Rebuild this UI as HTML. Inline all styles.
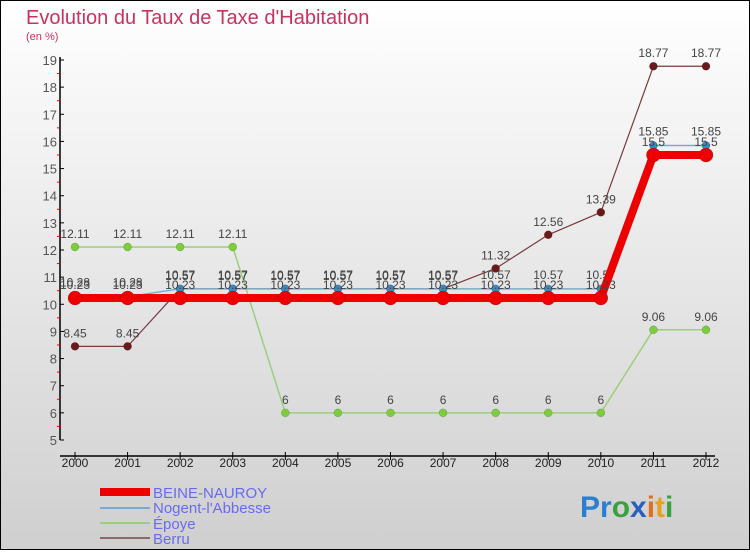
<!DOCTYPE html>
<html><head><meta charset="utf-8"><style>
html,body{margin:0;padding:0}
body{width:750px;height:550px;overflow:hidden;font-family:"Liberation Sans","DejaVu Sans",sans-serif}
</style></head><body>
<svg id="chart" width="750" height="550" xmlns="http://www.w3.org/2000/svg">
<defs><linearGradient id="bg" x1="0" y1="0" x2="0" y2="1"><stop offset="0" stop-color="#ffffff"/><stop offset="1" stop-color="#cfcfcf"/></linearGradient></defs>
<rect x="0.5" y="0.5" width="749" height="549" fill="url(#bg)" stroke="#000" stroke-width="1"/>
<text x="26" y="24" font-size="20" fill="#c8325e">Evolution du Taux de Taxe d'Habitation</text>
<text x="26" y="40" font-size="11" fill="#c8325e">(en %)</text>
<g id="axes"></g>
<g id="series"></g>
<g>
<rect x="100" y="488" width="50" height="8" fill="#e00"/>
<text x="153" y="498" font-size="15" fill="#6a6af0">BEINE-NAUROY</text>
<rect x="100" y="507" width="50" height="2" fill="#7aa8d0"/>
<text x="153" y="513" font-size="15" fill="#6a6af0">Nogent-l'Abbesse</text>
<rect x="100" y="522" width="50" height="2" fill="#9ccf7a"/>
<text x="153" y="529" font-size="15" fill="#6a6af0">Époye</text>
<rect x="100" y="537" width="50" height="2" fill="#8c6a6a"/>
<text x="153" y="544" font-size="15" fill="#6a6af0">Berru</text>
</g>
<g font-size="30" font-weight="bold">
<text x="580" y="517"><tspan fill="#2a7fd0">Pr</tspan><tspan fill="#3aa040">o</tspan><tspan fill="#2a5fc0">x</tspan><tspan fill="#e07020">i</tspan><tspan fill="#e8a020">t</tspan><tspan fill="#3aa040">i</tspan></text>
</g>
</svg>
<script>
const years = [2000,2001,2002,2003,2004,2005,2006,2007,2008,2009,2010,2011,2012];
const yTicks = [5,6,7,8,9,10,11,12,13,14,15,16,17,18,19];
const beine = [10.23,10.23,10.23,10.23,10.23,10.23,10.23,10.23,10.23,10.23,10.23,15.5,15.5];
const nogent = [10.28,10.28,10.57,10.57,10.57,10.57,10.57,10.57,10.57,10.57,10.57,15.85,15.85];
const epoye = [12.11,12.11,12.11,12.11,6,6,6,6,6,6,6,9.06,9.06];
const berru = [8.45,8.45,10.57,10.57,10.57,10.57,10.57,10.57,11.32,12.56,13.39,18.77,18.77];
const NS='http://www.w3.org/2000/svg';
const x0=75,x1=706,yBot=440,yTop=60,vMin=5,vMax=19;
const xs=i=>x0+(x1-x0)*i/(years.length-1);
const ys=v=>yBot-(v-vMin)*(yBot-yTop)/(vMax-vMin);
function mk(tag,attrs,parent){const e=document.createElementNS(NS,tag);for(const k in attrs)e.setAttribute(k,attrs[k]);parent.appendChild(e);return e;}
const axes=document.getElementById('axes');
let a=mk('line',{x1:60,y1:yTop-3,x2:60,y2:yBot,stroke:'#000','stroke-width':1.5},axes);


a=mk('line',{x1:60,y1:yBot+16,x2:715,y2:yBot+16,stroke:'#000','stroke-width':1.5},axes);


yTicks.forEach(v=>{
  mk('line',{x1:60,y1:ys(v),x2:64,y2:ys(v),stroke:'#000'},axes);
  if(v<vMax) mk('line',{x1:57,y1:ys(v+0.5),x2:60,y2:ys(v+0.5),stroke:'#e00'},axes);
  const t=mk('text',{x:57,y:ys(v)+5,'font-size':13,fill:'#555','text-anchor':'end'},axes);
  t.textContent=v;
  
  
});
years.forEach((yr,i)=>{
  mk('line',{x1:xs(i),y1:yBot+12,x2:xs(i),y2:yBot+20,stroke:'#000'},axes);
  const t=mk('text',{x:xs(i),y:yBot+27,'font-size':12,fill:'#222','text-anchor':'middle'},axes);
  t.textContent=yr;
  
  
});
const sg=document.getElementById('series');
function draw(name,vals,color,dot,lw,r,labOff){
  const g=mk('g',{},sg);
  
  
  const pl=mk('polyline',{points:vals.map((v,i)=>xs(i)+','+ys(v)).join(' '),fill:'none',stroke:color,'stroke-width':lw,'stroke-linejoin':'round'},g);
  
  
  vals.forEach((v,i)=>{
    const c=mk('circle',{cx:xs(i),cy:ys(v),r:r,fill:dot,stroke:'rgba(0,0,0,0.25)','stroke-width':0.5},g);
    
    
    const t=mk('text',{x:xs(i),y:ys(v)-labOff,'font-size':12,fill:'#444','text-anchor':'middle'},g);
    t.textContent=String(v);
    
    
  });
}
draw('epoye',epoye,'#9ccf7a','#7ccc3c',1.5,4,9);
draw('berru',berru,'#7a3a3a','#6a1a1a',1.2,4,9);
draw('nogent',nogent,'#7aa8d0','#3a8ac8',1.5,4,10);
draw('beine-nauroy',beine,'#ee0000','#ee0000',8,7,9);
</script>
</body></html>
